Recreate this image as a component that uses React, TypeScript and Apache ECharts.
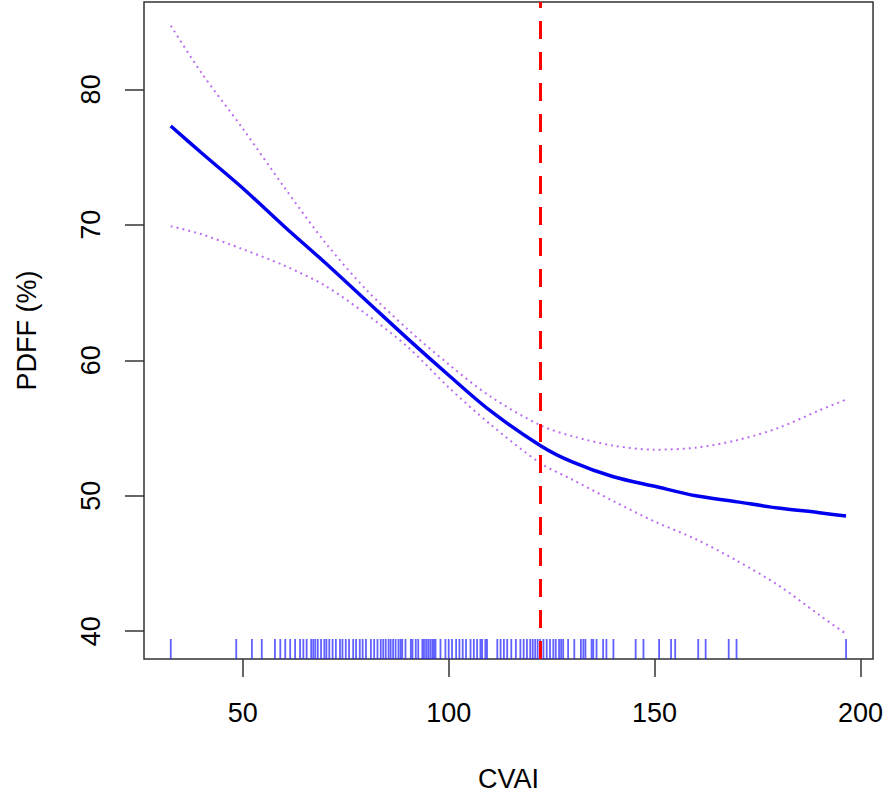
import React, { useEffect, useRef } from "react";
import * as echarts from "echarts";

const xGrid = [32.5, 40, 50, 60, 70, 80, 90, 100, 110, 122.3, 130, 140, 150, 160, 170, 180, 190, 196.5];
const fitValues = [77.3, 75.3, 72.7, 69.9, 67.2, 64.4, 61.6, 58.9, 56.3, 53.7, 52.5, 51.4, 50.7, 50.0, 49.55, 49.1, 48.75, 48.5];
const upperValues = [84.7, 81.2, 77.1, 72.8, 68.7, 65.2, 62.3, 59.7, 57.35, 55.2, 54.4, 53.7, 53.4, 53.55, 54.1, 55.0, 56.3, 57.1];
const lowerValues = [69.9, 69.3, 68.2, 67.0, 65.5, 63.4, 61.0, 58.0, 55.3, 52.4, 51.2, 49.6, 48.1, 46.8, 45.2, 43.4, 41.2, 39.8];
const rugValues = [
  32.5, 48.4, 52.2, 54.6, 57.8, 59.1, 60.3, 61.5, 62.7, 63.9, 64.7, 65.5, 66.6, 67.1, 67.6, 68.2, 69.0,
  69.8, 70.3, 71.0, 71.8, 72.6, 73.6, 74.2, 75.0, 75.8, 76.8, 77.5, 78.4, 79.1, 79.9, 81.1, 81.9, 82.7,
  83.5, 84.1, 84.7, 85.4, 85.9, 86.5, 87.1, 87.8, 88.3, 88.7, 89.5, 90.8, 91.2, 92.0, 92.6, 93.6, 94.0,
  94.5, 95.0, 95.5, 96.0, 96.4, 96.8, 98.0, 99.2, 100.0, 100.8, 101.8, 102.6, 103.4, 104.2, 105.3, 106.1,
  106.9, 107.7, 108.1, 108.9, 109.3, 111.8, 112.6, 113.4, 114.2, 115.2, 116.3, 117.4, 118.2, 119.0,
  119.8, 120.4, 121.0, 121.6, 122.2, 123.0, 123.8, 124.6, 125.4, 126.0, 126.8, 127.3, 127.8, 129.0,
  130.5, 132.1, 132.7, 133.2, 134.7, 135.1, 135.9, 137.5, 138.3, 140.0, 145.4, 147.3, 151.1, 154.0,
  155.0, 160.6, 162.4, 168.0, 169.9, 196.5,
];
const cutPoint = 122.3;
const xTicks = [50, 100, 150, 200];
const yTicks = [40, 50, 60, 70, 80];
const xTitle = "CVAI";
const yTitle = "PDFF (%)";

const FONT = "Liberation Sans, Arial, sans-serif";

export default function App() {
  const ref = useRef<HTMLDivElement>(null);
  useEffect(() => {
    if (!ref.current) return;
    const chart = echarts.init(ref.current, null, { renderer: "svg" });
    const pair = (ys: number[]) => xGrid.map((x, i) => [x, ys[i]]);
    const ciStyle = { color: "#bb6ef2", width: 2, type: [2, 4] as any };
    chart.setOption({
      animation: false,
      backgroundColor: "#ffffff",
      grid: {
        left: 144,
        right: 11,
        top: 2,
        bottom: 140,
        show: true,
        borderColor: "#333333",
        borderWidth: 1.5,
        backgroundColor: "transparent",
      },
      xAxis: {
        type: "value",
        min: 26.0,
        max: 203.05,
        name: xTitle,
        nameLocation: "middle",
        nameGap: 106,
        nameTextStyle: { fontFamily: FONT, fontSize: 27, color: "#000" },
        axisLine: { show: false },
        splitLine: { show: false },
        axisTick: {
          show: true,
          inside: false,
          length: 18,
          customValues: xTicks,
          lineStyle: { color: "#333333", width: 1.5 },
        },
        axisLabel: {
          customValues: xTicks,
          margin: 40,
          fontFamily: FONT,
          fontSize: 27,
          color: "#000",
        },
      },
      yAxis: {
        type: "value",
        min: 37.95,
        max: 86.45,
        name: yTitle,
        nameLocation: "middle",
        nameGap: 104,
        nameRotate: 90,
        nameTextStyle: { fontFamily: FONT, fontSize: 27, color: "#000" },
        axisLine: { show: false },
        splitLine: { show: false },
        axisTick: {
          show: true,
          inside: false,
          length: 19,
          customValues: yTicks,
          lineStyle: { color: "#333333", width: 1.5 },
        },
        axisLabel: {
          customValues: yTicks,
          rotate: 90,
          margin: 40,
          fontFamily: FONT,
          fontSize: 27,
          color: "#000",
        },
      },
      series: [
        {
          type: "custom",
          name: "rug",
          data: rugValues.map((v) => [v, 40]),
          encode: { x: 0, y: 1 },
          clip: true,
          renderItem: (params: any, api: any) => {
            const cs = params.coordSys;
            const bottom = cs.y + cs.height;
            const x = api.coord([api.value(0), 40])[0];
            return {
              type: "line",
              shape: { x1: x, y1: bottom, x2: x, y2: bottom - 20 },
              style: { stroke: "rgba(30,30,255,0.7)", lineWidth: 1.8 },
            };
          },
          silent: true,
          z: 1,
        },
        {
          type: "line",
          name: "upper",
          data: pair(upperValues),
          smooth: 0.3,
          showSymbol: false,
          lineStyle: ciStyle,
          z: 2,
        },
        {
          type: "line",
          name: "lower",
          data: pair(lowerValues),
          smooth: 0.3,
          showSymbol: false,
          lineStyle: ciStyle,
          z: 2,
        },
        {
          type: "line",
          name: "fit",
          data: pair(fitValues),
          smooth: 0.3,
          showSymbol: false,
          lineStyle: { color: "#0000ee", width: 3.5 },
          z: 3,
          markLine: {
            silent: true,
            symbol: ["none", "none"],
            label: { show: false },
            lineStyle: { color: "#ff0000", width: 3, type: [18, 13] as any },
            data: [{ xAxis: cutPoint }],
            z: 4,
          },
        },
      ],
    });
    return () => chart.dispose();
  }, []);
  return (
    <div
      ref={ref}
      style={{ position: "fixed", left: 0, top: 0, width: 886, height: 799, background: "#fff" }}
    />
  );
}
